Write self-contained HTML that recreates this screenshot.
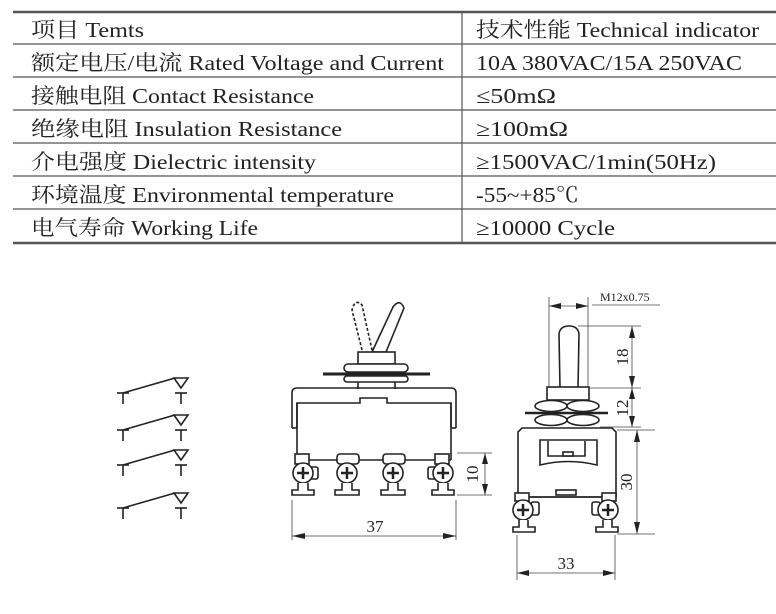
<!DOCTYPE html>
<html><head><meta charset="utf-8"><style>
html,body{margin:0;padding:0;background:#fff;width:776px;height:614px;overflow:hidden}
svg{display:block}
.t{font-family:"Liberation Serif","Noto Serif CJK SC","Noto Sans CJK SC",serif;font-size:21px;fill:#222}
.d{font-family:"Liberation Serif",serif;fill:#222}
</style></head><body>
<svg width="776" height="614" viewBox="0 0 776 614" xmlns="http://www.w3.org/2000/svg">
<g stroke="#555" fill="none">
<line x1="13" y1="12" x2="776" y2="12" stroke-width="2.5"/>
<line x1="13" y1="44" x2="776" y2="44" stroke-width="1.2"/>
<line x1="13" y1="77" x2="776" y2="77" stroke-width="1.2"/>
<line x1="13" y1="110" x2="776" y2="110" stroke-width="1.2"/>
<line x1="13" y1="143" x2="776" y2="143" stroke-width="1.2"/>
<line x1="13" y1="176" x2="776" y2="176" stroke-width="1.2"/>
<line x1="13" y1="209" x2="776" y2="209" stroke-width="1.2"/>
<line x1="13" y1="243" x2="776" y2="243" stroke-width="2.5"/>
<line x1="462" y1="12" x2="462" y2="243" stroke-width="1.2"/>
</g>
<g class="t">
<text x="31" y="37" textLength="113" lengthAdjust="spacingAndGlyphs">项目 Temts</text>
<text x="476" y="37" textLength="283" lengthAdjust="spacingAndGlyphs">技术性能 Technical indicator</text>
<text x="31" y="70" textLength="413" lengthAdjust="spacingAndGlyphs">额定电压/电流  Rated Voltage and Current</text>
<text x="476" y="70" textLength="266" lengthAdjust="spacingAndGlyphs">10A 380VAC/15A 250VAC</text>
<text x="31" y="103" textLength="283" lengthAdjust="spacingAndGlyphs">接触电阻 Contact Resistance</text>
<text x="476" y="103" textLength="80" lengthAdjust="spacingAndGlyphs">≤50mΩ</text>
<text x="31" y="136" textLength="311" lengthAdjust="spacingAndGlyphs">绝缘电阻 Insulation  Resistance</text>
<text x="476" y="136" textLength="92" lengthAdjust="spacingAndGlyphs">≥100mΩ</text>
<text x="31" y="169" textLength="285" lengthAdjust="spacingAndGlyphs">介电强度 Dielectric intensity</text>
<text x="476" y="169" textLength="240" lengthAdjust="spacingAndGlyphs">≥1500VAC/1min(50Hz)</text>
<text x="31" y="202" textLength="363" lengthAdjust="spacingAndGlyphs">环境温度 Environmental temperature</text>
<text x="476" y="202" textLength="103" lengthAdjust="spacingAndGlyphs">-55~+85℃</text>
<text x="31" y="235" textLength="227" lengthAdjust="spacingAndGlyphs">电气寿命 Working Life</text>
<text x="476" y="235" textLength="139" lengthAdjust="spacingAndGlyphs">≥10000 Cycle</text>
</g>

<g stroke="#222" stroke-width="1.6" fill="none">
<g id="sw"><line x1="123" y1="393" x2="175" y2="378"/><polygon points="174,378 188,378 181,388"/><line x1="117" y1="393" x2="129" y2="393"/><line x1="123" y1="393" x2="123" y2="404"/><line x1="175" y1="393" x2="187" y2="393"/><line x1="181" y1="393" x2="181" y2="404"/></g>
<use href="#sw" y="37"/><use href="#sw" y="72"/><use href="#sw" y="115"/>
</g>

<g stroke="#222" stroke-width="1.6" fill="#fff">
<path d="M362,350 L352,310 Q355,298 362,305 L372,350" fill="none" stroke-dasharray="3,2"/>
<path d="M372,352 L393,307 Q400,298 404,308 L386,352 Z"/>
<rect x="358" y="352" width="37" height="12"/>
<rect x="344" y="364" width="64" height="8" rx="4"/>
<line x1="323" y1="374" x2="430" y2="374" stroke-width="3"/>
<rect x="344" y="376" width="64" height="6" rx="3"/>
<line x1="358" y1="382" x2="358" y2="389"/><line x1="395" y1="382" x2="395" y2="389"/>
<path d="M292,428 L292,393 Q292,388 297,388 L451,388 Q456,388 456,393 L456,428" fill="none"/>
<path d="M297,428 L297,403 L360,403 L360,398 L387,398 L387,403 L451,403 L451,428" fill="none"/>
<line x1="292" y1="428" x2="297" y2="428"/><line x1="451" y1="428" x2="456" y2="428"/>
<line x1="297" y1="403" x2="297" y2="460" fill="none"/><line x1="451" y1="403" x2="451" y2="460" fill="none"/>
<line x1="297" y1="460" x2="451" y2="460"/>
<g id="tf"><rect x="337" y="454" width="22" height="10" rx="3"/><circle cx="347" cy="473" r="10"/><path d="M342,483 L342,490 L335,490 L335,495 L359,495 L359,490 L352,490 L352,483" /><line x1="341" y1="473" x2="353" y2="473" stroke-width="2.5"/><line x1="347" y1="467" x2="347" y2="479" stroke-width="2.5"/></g>
<use href="#tf" x="46"/>
<rect x="310" y="467" width="8" height="12" rx="2"/><rect x="428" y="467" width="8" height="12" rx="2"/>
<g id="te"><rect x="295" y="454" width="14" height="10"/><circle cx="303" cy="473" r="10"/><path d="M298,483 L298,490 L292,490 L292,495 L314,495 L314,490 L308,490 L308,483"/><line x1="297" y1="473" x2="309" y2="473" stroke-width="2.5"/><line x1="303" y1="467" x2="303" y2="479" stroke-width="2.5"/></g>
<use href="#te" x="140"/>
</g>
<g stroke="#444" stroke-width="0.8" fill="none">
<line x1="457" y1="453" x2="492" y2="453"/><line x1="457" y1="495" x2="492" y2="495"/><line x1="485" y1="453" x2="485" y2="495"/>
<line x1="292" y1="500" x2="292" y2="540"/><line x1="456" y1="500" x2="456" y2="540"/><line x1="292" y1="536" x2="456" y2="536"/>
</g>
<g fill="#222">
<polygon points="485,453 482,464 488,464"/><polygon points="485,495 482,484 488,484"/>
<polygon points="292,536 305,533 305,539"/><polygon points="456,536 443,533 443,539"/>
</g>
<text class="d" font-size="17" transform="translate(478,474) rotate(-90)" text-anchor="middle">10</text>
<text class="d" x="375" y="532" font-size="17" text-anchor="middle">37</text>

<g stroke="#222" stroke-width="1.6" fill="#fff">
<path d="M560,388 L559,334 Q560,326 569,326 Q578,326 579,334 L578,388 Z"/>
<rect x="547" y="387" width="42" height="13"/>
<line x1="525" y1="413" x2="608" y2="413" stroke-width="2.5"/>
<ellipse cx="551" cy="406" rx="16" ry="5.5"/><ellipse cx="583" cy="406" rx="16" ry="5.5"/>
<ellipse cx="551" cy="420" rx="16" ry="5.5"/><ellipse cx="583" cy="420" rx="16" ry="5.5"/>
<path d="M518,497 L518,432 L522,428 L612,428 L616,432 L616,497 Z"/>
<path d="M540,440 L540,465 Q568,458 597,465 L597,440 Z" fill="none"/>
<path d="M548,441 L548,456 L585,456 L585,441" fill="none"/>
<rect x="563" y="452" width="10" height="4"/>
<rect x="556" y="490" width="20" height="5"/>
<line x1="518" y1="497" x2="616" y2="497"/>
<g id="sa"><rect x="515" y="493" width="14" height="8"/><rect x="531" y="502" width="8" height="13" rx="2"/><circle cx="523" cy="510" r="10"/><path d="M519,520 L519,527 L513,527 L513,532 L535,532 L535,527 L528,527 L528,520"/><line x1="517" y1="510" x2="529" y2="510" stroke-width="2.5"/><line x1="523" y1="504" x2="523" y2="516" stroke-width="2.5"/></g>
<g transform="translate(1131,0) scale(-1,1)"><use href="#sa"/></g>
</g>
<g stroke="#444" stroke-width="0.8" fill="none">
<line x1="549" y1="297" x2="549" y2="388"/><line x1="588" y1="297" x2="588" y2="388"/><line x1="549" y1="306" x2="588" y2="306"/>
<line x1="592" y1="305" x2="660" y2="305"/>
<line x1="578" y1="326" x2="641" y2="326"/><line x1="590" y1="388" x2="641" y2="388"/><line x1="600" y1="427" x2="641" y2="427"/>
<line x1="632" y1="326" x2="632" y2="427"/>
<line x1="617" y1="430" x2="655" y2="430"/><line x1="617" y1="534" x2="655" y2="534"/><line x1="637" y1="430" x2="637" y2="534"/>
<line x1="517" y1="535" x2="517" y2="580"/><line x1="615" y1="535" x2="615" y2="580"/><line x1="517" y1="573" x2="615" y2="573"/>
</g>
<g fill="#222">
<polygon points="549,306 561,303 561,309"/><polygon points="588,306 576,303 576,309"/>
<polygon points="632,326 629,338 635,338"/><polygon points="632,388 629,376 635,376"/>
<polygon points="632,388 629,399 635,399"/><polygon points="632,427 629,416 635,416"/>
<polygon points="637,430 634,442 640,442"/><polygon points="637,534 634,522 640,522"/>
<polygon points="517,573 529,570 529,576"/><polygon points="615,573 603,570 603,576"/>
</g>
<text class="d" x="600" y="301" font-size="12">M12x0.75</text>
<text class="d" font-size="17" transform="translate(628,357) rotate(-90)" text-anchor="middle">18</text>
<text class="d" font-size="17" transform="translate(628,408) rotate(-90)" text-anchor="middle">12</text>
<text class="d" font-size="17" transform="translate(632,482) rotate(-90)" text-anchor="middle">30</text>
<text class="d" x="566" y="569" font-size="17" text-anchor="middle">33</text>
</svg>
</body></html>
